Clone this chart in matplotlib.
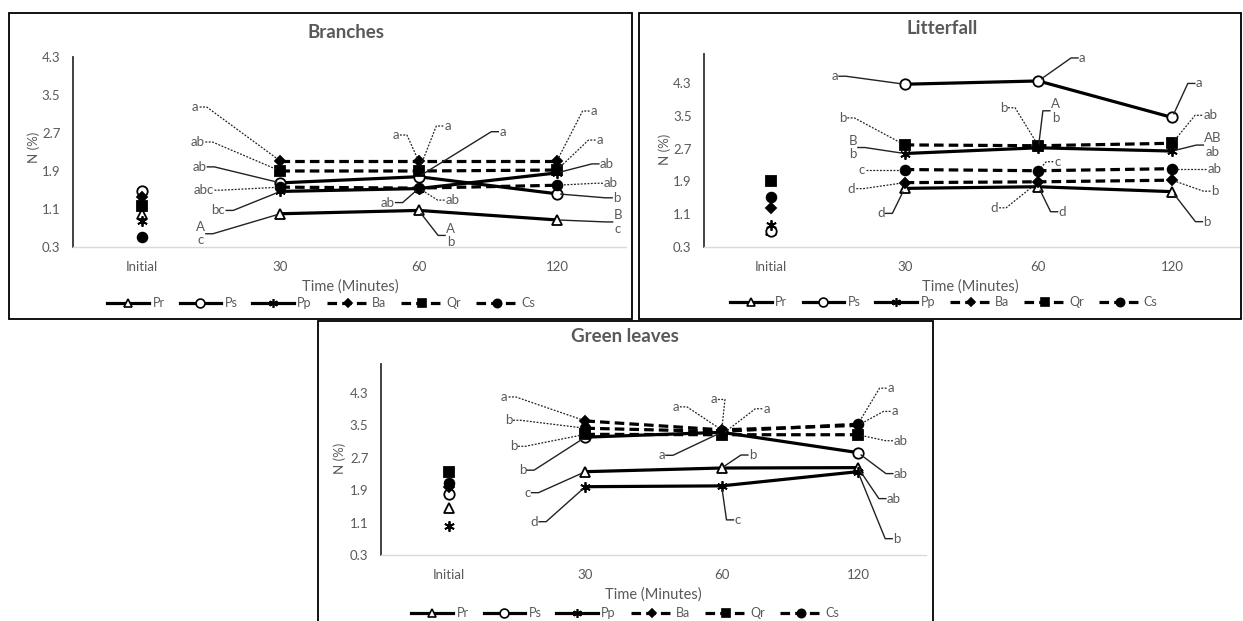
import matplotlib
matplotlib.use('Agg')
import matplotlib.pyplot as plt
from matplotlib.lines import Line2D
from matplotlib.patches import Rectangle
from matplotlib.transforms import IdentityTransform

plt.rcParams['font.family'] = ['Lato', 'DejaVu Sans']

# ---- data ----
times = ['Initial', '30', '60', '120']
species = ['Pr', 'Ps', 'Pp', 'Ba', 'Qr', 'Cs']
y_ticks = [0.3, 1.1, 1.9, 2.7, 3.5, 4.3]

# Branches, N (%) at Initial, 30, 60, 120 min
branches_pr = [1.0, 1.0, 1.07, 0.87]
branches_ps = [1.48, 1.65, 1.78, 1.42]
branches_pp = [0.85, 1.47, 1.53, 1.86]
branches_ba = [1.35, 2.11, 2.11, 2.11]
branches_qr = [1.17, 1.9, 1.9, 1.92]
branches_cs = [0.51, 1.56, 1.54, 1.6]
# significance letters at 30, 60, 120 min
branches_pr_sig = ['A\nc', 'A\nb', 'B\nc']
branches_ps_sig = ['ab', 'a', 'b']
branches_pp_sig = ['bc', 'ab', 'ab']
branches_ba_sig = ['a', 'a', 'a']
branches_qr_sig = ['ab', 'a', 'a']
branches_cs_sig = ['abc', 'ab', 'ab']

# Litterfall
litter_pr = [0.72, 1.73, 1.77, 1.65]
litter_ps = [0.68, 4.27, 4.35, 3.46]
litter_pp = [0.84, 2.58, 2.72, 2.64]
litter_ba = [1.26, 1.87, 1.89, 1.93]
litter_qr = [1.91, 2.79, 2.77, 2.83]
litter_cs = [1.52, 2.19, 2.16, 2.21]
litter_pr_sig = ['d', 'd', 'b']
litter_ps_sig = ['a', 'a', 'a']
litter_pp_sig = ['B\nb', 'A\nb', 'AB\nab']
litter_ba_sig = ['d', 'd', 'b']
litter_qr_sig = ['b', 'b', 'ab']
litter_cs_sig = ['c', 'c', 'ab']

# Green leaves
green_pr = [1.46, 2.36, 2.45, 2.46]
green_ps = [1.81, 3.21, 3.33, 2.83]
green_pp = [1.03, 1.99, 2.01, 2.36]
green_ba = [1.98, 3.61, 3.39, 3.5]
green_qr = [2.35, 3.28, 3.27, 3.27]
green_cs = [2.08, 3.43, 3.35, 3.53]
green_pr_sig = ['c', 'b', 'ab']
green_ps_sig = ['b', 'a', 'ab']
green_pp_sig = ['d', 'c', 'b']
green_ba_sig = ['a', 'a', 'a']
green_qr_sig = ['b', 'a', 'ab']
green_cs_sig = ['b', 'a', 'a']

# ---- layout (pixels) ----
W, H = 1243, 621
GRAY = '#595959'

styles = {
    'Pr': dict(ls='-', marker='^', mfc='white', ms=7),
    'Ps': dict(ls='-', marker='o', mfc='white', ms=7.5),
    'Pp': dict(ls='-', marker=(6, 2, 0), mfc='black', ms=7.5),
    'Ba': dict(ls='--', marker='D', mfc='black', ms=5),
    'Qr': dict(ls='--', marker='s', mfc='black', ms=6.5),
    'Cs': dict(ls='--', marker='o', mfc='black', ms=7),
}

# label offsets from the point (dx, dy in pixels, up is positive)
branches_offsets = {
    'Pr': [(-80, -20), (32, -25), (61, -2)],
    'Ps': [(-81, 16), (84, 45), (60, -4)],
    'Pp': [(-62, -19), (-31, -14), (50, 9)],
    'Ba': [(-85, 54), (-23, 26), (37, 50)],
    'Qr': [(-83, 29), (29, 45), (43, 30)],
    'Cs': [(-77, -3), (34, -12), (54, 2)],
}
litter_offsets = {
    'Pr': [(-24, -25), (24, -25), (35, -30)],
    'Ps': [(-70, 8), (44, 23), (27, 34)],
    'Pp': [(-52, 6), (17, 37), (41, 6)],
    'Ba': [(-53, -6), (-44, -26), (43, -11)],
    'Qr': [(-62, 27), (-35, 38), (38, 28)],
    'Cs': [(-43, 0), (19, 9), (42, 0)],
}
green_offsets = {
    'Pr': [(-58, -21), (31, 13), (36, -31)],
    'Ps': [(-63, -33), (-60, -23), (43, -21)],
    'Pp': [(-51, -35), (16, -34), (39, -67)],
    'Ba': [(-81, 24), (-46, 23), (37, 14)],
    'Qr': [(-72, -12), (45, 26), (43, -6)],
    'Cs': [(-77, 8), (-8, 32), (33, 36)],
}

panels = [
    dict(title='Branches', box=(9, 13, 632, 319), plot=(73, 57, 626, 247), ymax=4.3,
         title_xy=(346, 32), ylab_xy=(34, 147), xlab_xy=(350, 287), leg_xy=(321, 303),
         values=[branches_pr, branches_ps, branches_pp, branches_ba, branches_qr, branches_cs],
         sigs=[branches_pr_sig, branches_ps_sig, branches_pp_sig, branches_ba_sig,
               branches_qr_sig, branches_cs_sig],
         offsets=branches_offsets),
    dict(title='Litterfall', box=(639, 13, 1241, 319), plot=(704, 54.3, 1239, 247), ymax=5.0,
         title_xy=(942, 28), ylab_xy=(665, 149), xlab_xy=(970, 287), leg_xy=(944, 302),
         values=[litter_pr, litter_ps, litter_pp, litter_ba, litter_qr, litter_cs],
         sigs=[litter_pr_sig, litter_ps_sig, litter_pp_sig, litter_ba_sig,
               litter_qr_sig, litter_cs_sig],
         offsets=litter_offsets),
    dict(title='Green leaves', box=(318, 321, 933, 630), plot=(381, 364.5, 926, 555.3), ymax=5.0,
         title_xy=(625, 336), ylab_xy=(340, 458), xlab_xy=(653, 595), leg_xy=(625, 613),
         values=[green_pr, green_ps, green_pp, green_ba, green_qr, green_cs],
         sigs=[green_pr_sig, green_ps_sig, green_pp_sig, green_ba_sig,
               green_qr_sig, green_cs_sig],
         offsets=green_offsets),
]

fig = plt.figure(figsize=(W / 100, H / 100), dpi=100)
labels = []

for p in panels:
    l, t, r, b = p['box']
    fig.add_artist(Rectangle((l / W, 1 - b / H), (r - l) / W, (b - t) / H,
                             transform=fig.transFigure, fill=False, ec='black', lw=1.3))
    l, t, r, b = p['plot']
    ax = fig.add_axes([l / W, 1 - b / H, (r - l) / W, (b - t) / H])
    ax.set_facecolor('none')

    x = list(range(len(times)))
    for sp, vals in zip(species, p['values']):
        st = styles[sp]
        kw = dict(color='black', marker=st['marker'], mfc=st['mfc'], mec='black',
                  ms=st['ms'], mew=1.3)
        line, = ax.plot(x[1:], vals[1:], ls=st['ls'], lw=2.3, **kw)
        if st['ls'] == '--':
            line.set_dashes((3, 1.6))
        ax.plot(x[:1], vals[:1], ls='none', **kw)

    ax.set_xlim(-0.5, 3.5)
    ax.set_ylim(0.3, p['ymax'])
    ax.set_xticks(x, times)
    ax.set_yticks(y_ticks, [f'{v:.1f}' for v in y_ticks])
    ax.tick_params(length=0, colors=GRAY, labelsize=9.5)
    ax.tick_params(axis='y', pad=9)
    ax.tick_params(axis='x', pad=10)
    for s in ['top', 'right']:
        ax.spines[s].set_visible(False)
    ax.spines['left'].set_color('#333333')
    ax.spines['left'].set_linewidth(1.3)
    ax.spines['bottom'].set_color('#d9d9d9')
    ax.spines['bottom'].set_linewidth(1)

    # significance letters
    for sp, vals, sig in zip(species, p['values'], p['sigs']):
        dotted = styles[sp]['ls'] == '--'
        for i in range(3):
            dx, dy = p['offsets'][sp][i]
            txt = ax.annotate(sig[i], (i + 1, vals[i + 1]), xytext=(dx, dy),
                              textcoords='offset pixels', ha='center', va='center',
                              fontsize=9.5, color=GRAY, linespacing=1.15, annotation_clip=False)
            labels.append((ax, txt, i + 1, vals[i + 1], dotted))

    fig.text(p['title_xy'][0] / W, 1 - p['title_xy'][1] / H, p['title'], ha='center',
             va='center', fontsize=13.5, fontweight='bold', color=GRAY)
    fig.text(p['ylab_xy'][0] / W, 1 - p['ylab_xy'][1] / H, 'N (%)', rotation=90,
             ha='center', va='center', fontsize=9.5, color=GRAY)
    fig.text(p['xlab_xy'][0] / W, 1 - p['xlab_xy'][1] / H, 'Time (Minutes)',
             ha='center', va='center', fontsize=10.5, color=GRAY)

    handles = []
    for sp in species:
        st = styles[sp]
        h = Line2D([], [], color='black', ls=st['ls'], lw=2.3, marker=st['marker'],
                   mfc=st['mfc'], mec='black', ms=st['ms'] * 0.85, mew=1.2, label=sp)
        if st['ls'] == '--':
            h.set_dashes((3, 1.6))
        handles.append(h)
    fig.legend(handles=handles, loc='center', ncol=6, frameon=False, fontsize=9,
               labelcolor=GRAY, handlelength=3.3, handletextpad=0.3, columnspacing=1.2,
               bbox_to_anchor=(p['leg_xy'][0] / W, 1 - p['leg_xy'][1] / H))

# leader lines from the letters to the points
renderer = fig.canvas.get_renderer()
for ax, txt, xi, v, dotted in labels:
    bb = txt.get_window_extent(renderer)
    px, py = ax.transData.transform((xi, v))
    cy = (bb.y0 + bb.y1) / 2
    if (bb.x0 + bb.x1) / 2 < px:
        sx, kx = bb.x1 + 1, bb.x1 + 8
    else:
        sx, kx = bb.x0 - 1, bb.x0 - 8
    ddx, ddy = px - kx, py - cy
    dist = max((ddx ** 2 + ddy ** 2) ** 0.5, 1)
    ex, ey = px - ddx / dist * 4, py - ddy / dist * 4
    ln = Line2D([sx, kx, ex], [cy, cy, ey], transform=IdentityTransform(),
                color='#222222', lw=0.9 if dotted else 1.0,
                ls=(0, (1.5, 1.2)) if dotted else '-')
    fig.add_artist(ln)

fig.savefig('out.png', dpi=100, facecolor='white')
